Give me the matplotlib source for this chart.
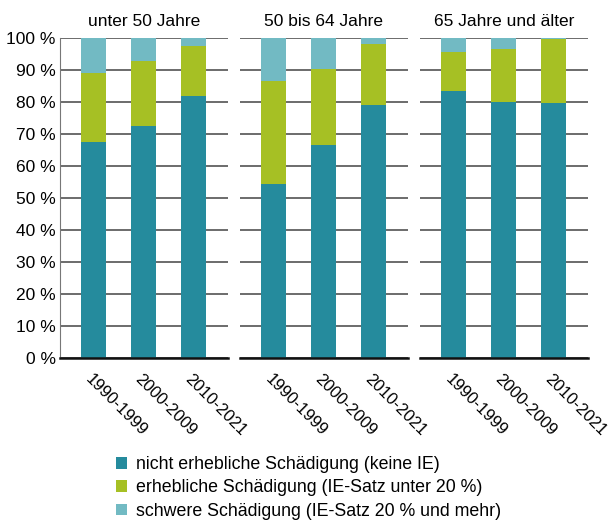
import numpy as np
import matplotlib.pyplot as plt
from matplotlib.patches import Patch

plt.rcParams['font.family'] = ['Liberation Sans', 'DejaVu Sans']

groups = ['unter 50 Jahre', '50 bis 64 Jahre', '65 Jahre und älter']
periods = ['1990-1999', '2000-2009', '2010-2021']

# shares in percent per age group, one value per period
keine_ie = [[67.5, 72.5, 81.9], [54.4, 66.6, 79.1], [83.5, 80.1, 79.7]]
unter_20 = [[21.6, 20.3, 15.7], [32.2, 23.7, 19.1], [12.2, 16.6, 19.9]]
ab_20 = [[10.9, 7.2, 2.4], [13.4, 9.7, 1.8], [4.3, 3.3, 0.4]]

labels = ['nicht erhebliche Schädigung (keine IE)',
          'erhebliche Schädigung (IE-Satz unter 20 %)',
          'schwere Schädigung (IE-Satz 20 % und mehr)']
colors = ['#258b9d', '#a6c024', '#72bac3']

fs = 12.5

fig = plt.figure(figsize=(6.09, 5.20), dpi=100)
lefts = [60 / 609, 240 / 609, 420 / 609]
x = np.arange(len(periods))

for i, g in enumerate(groups):
    ax = fig.add_axes([lefts[i], 1 - 358 / 520, 168 / 609, 320 / 520])
    ax.set_axisbelow(True)
    ax.yaxis.grid(True, color='#444444', lw=1.1)
    b1 = np.array(keine_ie[i])
    b2 = np.array(unter_20[i])
    b3 = np.array(ab_20[i])
    ax.bar(x, b1, width=0.5, color=colors[0], zorder=2)
    ax.bar(x, b2, width=0.5, bottom=b1, color=colors[1], zorder=2)
    ax.bar(x, b3, width=0.5, bottom=b1 + b2, color=colors[2], zorder=2)
    ax.set_xlim(-0.66, 2.7)
    ax.set_ylim(0, 100)
    ax.set_yticks(range(0, 101, 10))
    for s in ['top', 'right']:
        ax.spines[s].set_visible(False)
    ax.spines['bottom'].set_linewidth(1.8)
    ax.spines['bottom'].set_color('#111111')
    if i == 0:
        ax.spines['left'].set_color('#777777')
        ax.set_yticklabels([f'{v} %' for v in range(0, 101, 10)], fontsize=fs)
        ax.tick_params(axis='y', length=0, pad=3)
    else:
        ax.spines['left'].set_visible(False)
        ax.tick_params(axis='y', length=0, labelleft=False)
    ax.set_xticks(x)
    ax.set_xticklabels(periods, rotation=-45, ha='left', va='top',
                       rotation_mode='anchor', fontsize=12)
    ax.tick_params(axis='x', length=0, pad=10)
    ax.set_title(g, fontsize=fs, pad=9)

handles = [Patch(facecolor=c, edgecolor='none') for c in colors]
fig.legend(handles, labels, loc='lower left', bbox_to_anchor=(100 / 609, -0.03),
           frameon=False, fontsize=12.8, handlelength=0.6, handleheight=0.6,
           handletextpad=0.55, labelspacing=0.35)

fig.savefig('out.png', dpi=100)
